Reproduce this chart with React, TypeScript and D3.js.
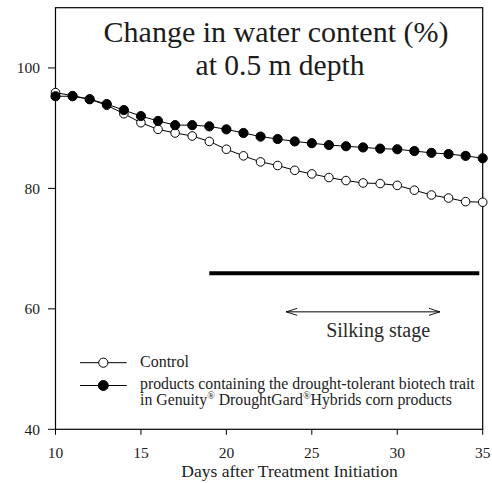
import React, { useEffect, useRef } from 'react';
import * as d3 from 'd3';

// Days after treatment initiation
const days = [10, 11, 12, 13, 14, 15, 16, 17, 18, 19, 20, 21, 22, 23, 24, 25, 26, 27, 28, 29, 30, 31, 32, 33, 34, 35];

// Water content (%)
const controlValues = [95.9, 95.4, 94.8, 93.8, 92.4, 90.9, 89.8, 89.2, 88.7, 87.8, 86.5, 85.4, 84.4, 83.8, 83.0, 82.4, 81.8, 81.3, 80.9, 80.8, 80.5, 79.7, 78.9, 78.4, 77.8, 77.7];
const droughtGardValues = [95.3, 95.3, 94.8, 94.0, 93.0, 92.0, 91.2, 90.5, 90.5, 90.3, 89.8, 89.2, 88.6, 88.2, 87.8, 87.5, 87.2, 87.0, 86.8, 86.6, 86.5, 86.2, 85.9, 85.7, 85.4, 85.0];

const xTicks = [10, 15, 20, 25, 30, 35];
const yTicks = [40, 60, 80, 100];

const titleLines = ['Change in water content (%)', 'at 0.5 m depth'];
const xLabel = 'Days after Treatment Initiation';

// thick bar and silking stage span (days, %)
const barSpan = [19, 34.8];
const barLevel = 65.9;
const silkingSpan = [23.5, 32.5];
const silkingLevel = 59.5;
const silkingLabel = 'Silking stage';

const App = () => {
  const ref = useRef<SVGSVGElement>(null);

  useEffect(() => {
    const width = 492, height = 483;
    const left = 55.5, right = 482.7, top = 7.7, bottom = 429.3;
    const font = '"Liberation Serif", "Times New Roman", serif';
    const ink = '#1c1c1c';

    const svg = d3.select(ref.current);
    svg.selectAll('*').remove();
    svg.attr('width', width).attr('height', height);

    svg.append('rect').attr('width', width).attr('height', height).attr('fill', '#fff');

    const x = d3.scaleLinear().domain([10, 35]).range([left, right]);
    const y = d3.scaleLinear().domain([40, 110]).range([bottom, top]);

    // frame
    svg.append('rect')
      .attr('x', left).attr('y', top)
      .attr('width', right - left).attr('height', bottom - top)
      .attr('fill', 'none').attr('stroke', '#000').attr('stroke-width', 1.2);

    // y axis ticks
    yTicks.forEach(t => {
      svg.append('line')
        .attr('x1', left - 7.5).attr('x2', left)
        .attr('y1', y(t)).attr('y2', y(t))
        .attr('stroke', '#000').attr('stroke-width', 1);
      svg.append('text')
        .attr('x', 40).attr('y', y(t)).attr('dy', '0.35em')
        .attr('text-anchor', 'end')
        .attr('font-family', font).attr('font-size', 15.5).attr('fill', ink)
        .text(t);
    });

    // x axis ticks
    xTicks.forEach(t => {
      svg.append('line')
        .attr('x1', x(t)).attr('x2', x(t))
        .attr('y1', bottom).attr('y2', bottom + 5.5)
        .attr('stroke', '#000').attr('stroke-width', 1);
      svg.append('text')
        .attr('x', x(t)).attr('y', 458)
        .attr('text-anchor', 'middle')
        .attr('font-family', font).attr('font-size', 15.5).attr('fill', ink)
        .text(t);
    });

    svg.append('text')
      .attr('x', 289.5).attr('y', 476.5)
      .attr('text-anchor', 'middle')
      .attr('font-family', font).attr('font-size', 17.5).attr('fill', ink)
      .text(xLabel);

    // title
    svg.append('text')
      .attr('x', 276).attr('y', 42)
      .attr('text-anchor', 'middle')
      .attr('font-family', font).attr('font-size', 30).attr('fill', ink)
      .text(titleLines[0]);
    svg.append('text')
      .attr('x', 280).attr('y', 74.5)
      .attr('text-anchor', 'middle')
      .attr('font-family', font).attr('font-size', 29.5).attr('fill', ink)
      .text(titleLines[1]);

    // series
    const line = d3.line<number>()
      .x((_, i) => x(days[i]))
      .y(d => y(d));

    const drawSeries = (values: number[], filled: boolean) => {
      svg.append('path')
        .attr('d', line(values))
        .attr('fill', 'none').attr('stroke', '#000').attr('stroke-width', 1);
      svg.append('g').selectAll('circle')
        .data(values)
        .enter().append('circle')
        .attr('cx', (_, i) => x(days[i]))
        .attr('cy', d => y(d))
        .attr('r', filled ? 4.6 : 4.3)
        .attr('fill', filled ? '#000' : '#fff')
        .attr('stroke', '#000').attr('stroke-width', 1);
    };
    drawSeries(controlValues, false);
    drawSeries(droughtGardValues, true);

    // thick bar
    svg.append('line')
      .attr('x1', x(barSpan[0])).attr('x2', x(barSpan[1]))
      .attr('y1', y(barLevel)).attr('y2', y(barLevel))
      .attr('stroke', '#000').attr('stroke-width', 4);

    // silking stage arrow
    const ax1 = x(silkingSpan[0]), ax2 = x(silkingSpan[1]), ay = y(silkingLevel);
    svg.append('line')
      .attr('x1', ax1).attr('x2', ax2).attr('y1', ay).attr('y2', ay)
      .attr('stroke', '#000').attr('stroke-width', 1);
    svg.append('path')
      .attr('d', `M${ax1 + 11},${ay - 3.5}L${ax1},${ay}L${ax1 + 11},${ay + 3.5}` +
        `M${ax2 - 11},${ay - 3.5}L${ax2},${ay}L${ax2 - 11},${ay + 3.5}`)
      .attr('fill', 'none').attr('stroke', '#000').attr('stroke-width', 0.9);
    svg.append('text')
      .attr('x', (ax1 + ax2) / 2 + 15).attr('y', 336.5)
      .attr('text-anchor', 'middle')
      .attr('font-family', font).attr('font-size', 20).attr('fill', '#2a2a2a')
      .text(silkingLabel);

    // legend
    const legend = svg.append('g').attr('font-family', font).attr('fill', ink);
    const lx1 = 80, lx2 = 126.7, lcx = 103.3;

    legend.append('line').attr('x1', lx1).attr('x2', lx2).attr('y1', 362.7).attr('y2', 362.7)
      .attr('stroke', '#000').attr('stroke-width', 1);
    legend.append('circle').attr('cx', lcx).attr('cy', 362.7).attr('r', 4.6)
      .attr('fill', '#fff').attr('stroke', '#000').attr('stroke-width', 1);
    legend.append('text').attr('x', 140).attr('y', 366.7).attr('font-size', 16).text('Control');

    legend.append('line').attr('x1', lx1).attr('x2', lx2).attr('y1', 385.5).attr('y2', 385.5)
      .attr('stroke', '#000').attr('stroke-width', 1);
    legend.append('circle').attr('cx', lcx).attr('cy', 385.5).attr('r', 5)
      .attr('fill', '#000').attr('stroke', '#000').attr('stroke-width', 1);
    legend.append('text').attr('x', 140).attr('y', 388.5).attr('font-size', 15.8)
      .text('products containing the drought-tolerant biotech trait');

    const t2 = legend.append('text').attr('x', 140).attr('y', 405).attr('font-size', 15.8);
    t2.append('tspan').text('in Genuity');
    t2.append('tspan').attr('font-size', 10).attr('dy', -6).text('®');
    t2.append('tspan').attr('dy', 6).text(' DroughtGard');
    t2.append('tspan').attr('font-size', 10).attr('dy', -6).text('®');
    t2.append('tspan').attr('dy', 6).text('Hybrids corn products');
  }, []);

  return (
    <svg ref={ref} width="492" height="483" style={{ position: 'absolute', left: 0, top: 0 }} />
  );
};

export default App;
